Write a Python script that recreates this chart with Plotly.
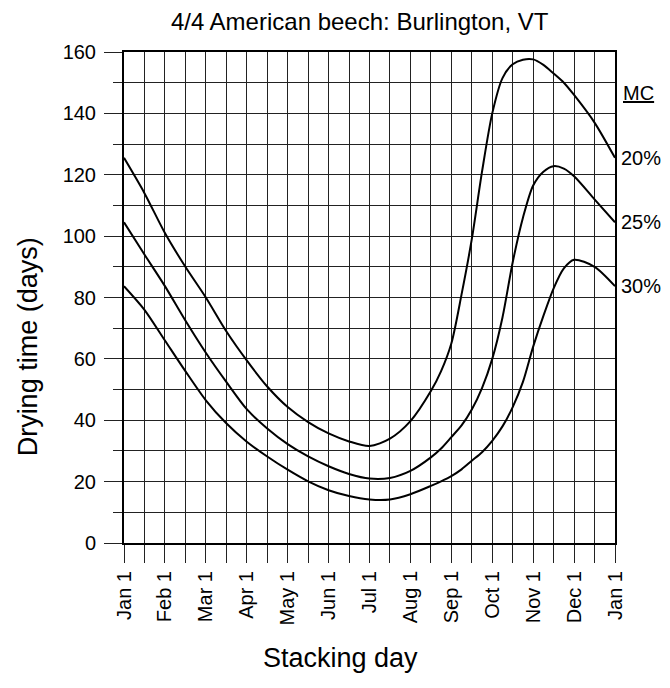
import plotly.graph_objects as go

# stacking day as months since Jan 1 (grid is drawn every half month)
months = [0, 0.5, 1, 1.5, 2, 2.5, 3, 3.5, 4, 4.5, 5, 5.5, 6, 6.5, 7, 7.5, 7.75,
          8, 8.25, 8.5, 8.75, 9, 9.25, 9.5, 9.75, 10, 10.25, 10.5, 10.75, 11, 11.5, 12]

# drying time (days) for each final moisture content
mc20 = [125.5, 114, 101, 90, 80, 69, 59.5, 51, 44.3, 39.4, 35.7, 33.1, 31.6, 34, 39.7, 49.5, 56,
        65, 81, 99, 121, 140, 151.5, 156, 157.5, 157.6, 155.8, 153, 150, 146, 137, 125.5]
mc25 = [104.5, 94, 83.7, 72.5, 62, 52.5, 43.6, 37.3, 32.2, 28.2, 25, 22.5, 21, 21.2, 23.5, 27.9, 30.8,
        34.5, 38.3, 43.5, 50.5, 60, 73.5, 91.5, 106, 116.5, 121, 122.8, 122, 119.5, 112, 104.5]
mc30 = [83.7, 76, 66, 56, 46.5, 39, 33, 28.2, 23.9, 20.1, 17.2, 15.3, 14.2, 14.2, 15.9, 18.6, 20.1,
        21.8, 24, 26.8, 29.6, 33.3, 38, 44.3, 52.5, 64, 74, 83, 89.5, 92.3, 90, 83.7]

series = [("20%", mc20), ("25%", mc25), ("30%", mc30)]

month_labels = ["Jan 1", "Feb 1", "Mar 1", "Apr 1", "May 1", "Jun 1", "Jul 1",
                "Aug 1", "Sep 1", "Oct 1", "Nov 1", "Dec 1", "Jan 1"]

FONT = "Liberation Sans, Arial, sans-serif"
GRID = "#222222"

# page body has an 8px margin, so the figure is a little smaller than the window
W, H = 662, 680

fig = go.Figure()
for name, vals in series:
    fig.add_trace(go.Scatter(
        x=months, y=vals, mode="lines", name=name,
        line=dict(color="black", width=2, shape="spline", smoothing=0.8),
        showlegend=False
    ))

# MC labels at the right end of each curve
for name, vals in series:
    fig.add_annotation(x=1, xref="paper", y=vals[-1], yref="y", text=name,
                       xanchor="left", yanchor="middle", xshift=4, showarrow=False,
                       font=dict(family=FONT, size=20, color="black"))
fig.add_annotation(x=1, xref="paper", y=146.8, yref="y", text="<u>MC</u>",
                   xanchor="left", yanchor="middle", xshift=6, showarrow=False,
                   font=dict(family=FONT, size=20, color="black"))

# axis titles
fig.add_annotation(x=-0.196, xref="paper", y=0.40, yref="paper", text="Drying time (days)",
                   textangle=-90, showarrow=False, xanchor="center", yanchor="middle",
                   font=dict(family=FONT, size=27, color="black"))
fig.add_annotation(x=0.441, xref="paper", y=-0.235, yref="paper", text="Stacking day",
                   showarrow=False, xanchor="center", yanchor="middle",
                   font=dict(family=FONT, size=27, color="black"))

fig.update_layout(
    width=W, height=H,
    title=dict(text="4/4 American beech: Burlington, VT", x=0.48, xref="paper",
               xanchor="center", y=1 - 14 / H, yref="container", yanchor="middle",
               font=dict(family=FONT, size=24, color="black")),
    font=dict(family=FONT, size=20, color="black"),
    plot_bgcolor="white", paper_bgcolor="white",
    margin=dict(l=116, r=55, t=44, b=145, autoexpand=False),
)

fig.update_xaxes(
    range=[0, 12], tickvals=list(range(13)), ticktext=month_labels, tickangle=-90,
    ticks="outside", ticklen=18, tickcolor=GRID, tickwidth=1,
    showgrid=True, gridcolor=GRID, gridwidth=1, zeroline=False,
    showline=True, linecolor="black", linewidth=2, mirror=True,
    minor=dict(dtick=0.5, tick0=0, ticks="outside", ticklen=18, tickcolor=GRID,
               showgrid=True, gridcolor=GRID, gridwidth=1),
    tickfont=dict(family=FONT, size=20), fixedrange=True,
)
fig.update_yaxes(
    range=[0, 160], tickvals=list(range(0, 161, 20)),
    ticks="outside", ticklen=18, tickcolor=GRID, tickwidth=1, ticklabelstandoff=4,
    showgrid=True, gridcolor=GRID, gridwidth=1, zeroline=False,
    showline=True, linecolor="black", linewidth=2, mirror=True,
    minor=dict(dtick=10, tick0=0, ticks="outside", ticklen=9, tickcolor=GRID,
               showgrid=True, gridcolor=GRID, gridwidth=1),
    tickfont=dict(family=FONT, size=20), fixedrange=True,
)

fig.write_html("out.html")
